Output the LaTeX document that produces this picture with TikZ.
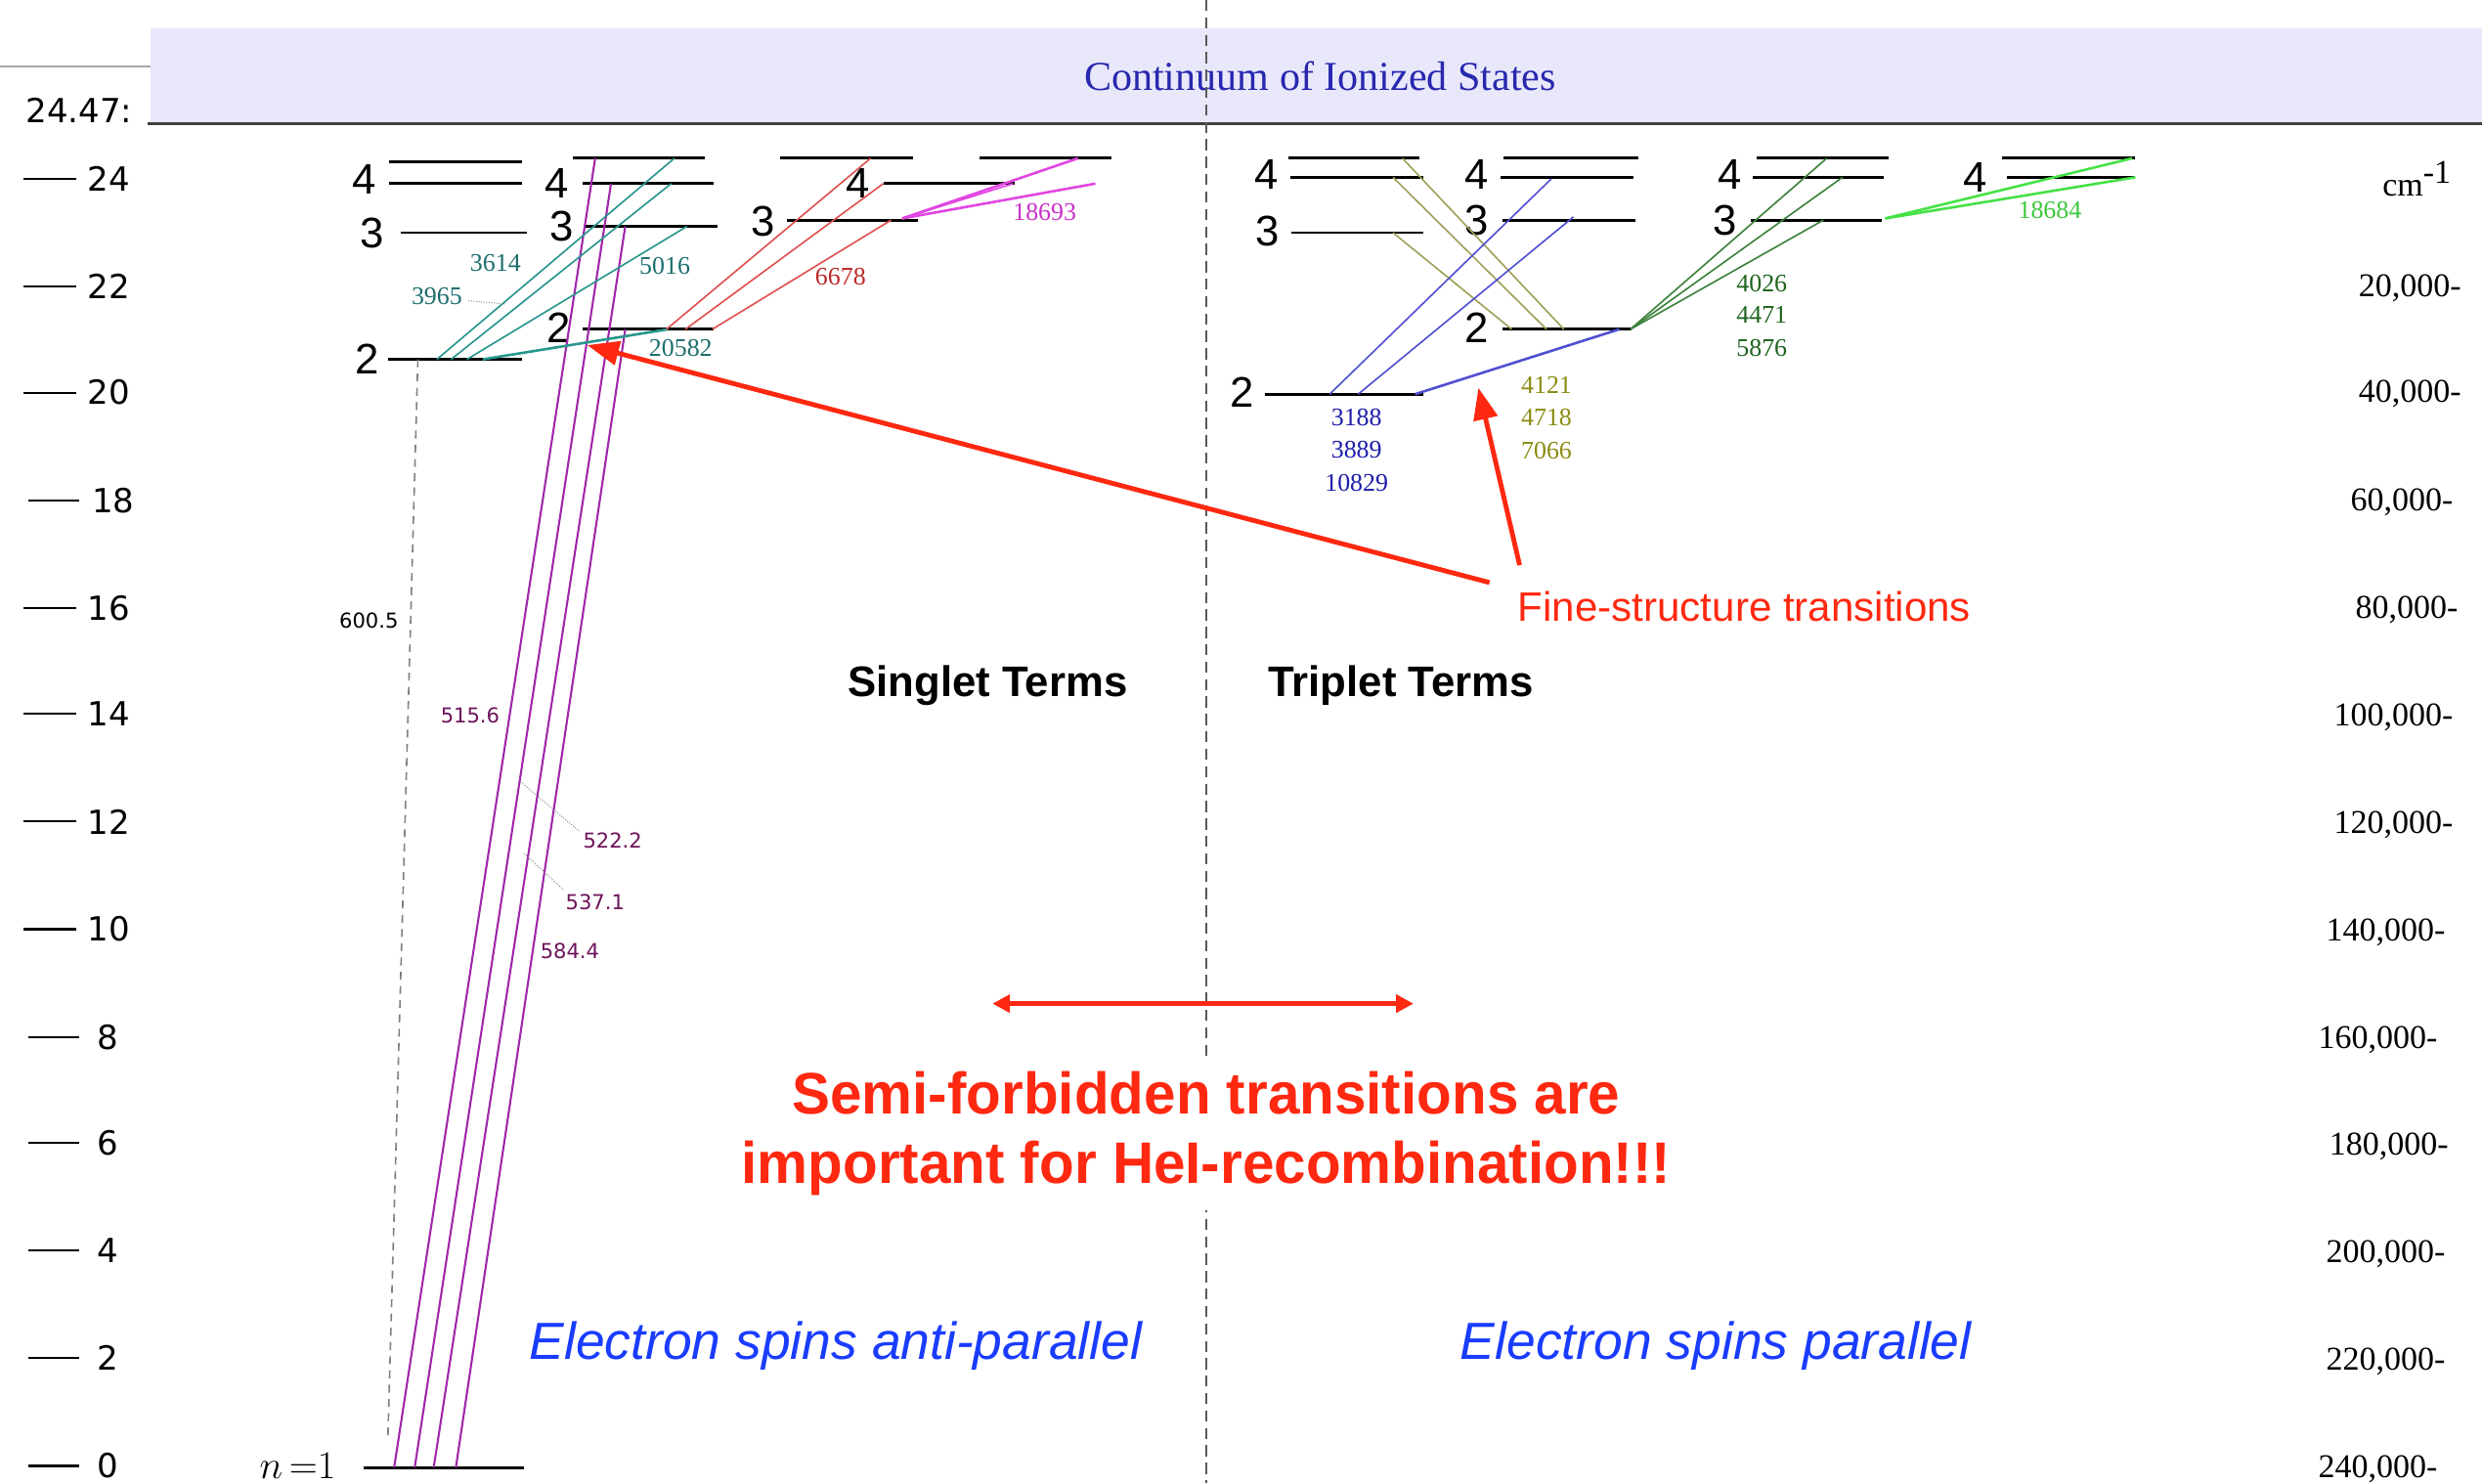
\documentclass[tikz,border=0pt]{standalone}
\usepackage{fontspec}
\usepackage{graphicx}
\setmainfont{Liberation Serif}
\newfontfamily\arial{Liberation Sans}
\newfontfamily\dejavu{DejaVu Sans}
\usetikzlibrary{arrows.meta}
\definecolor{bandfill}{RGB}{232,232,250}
\definecolor{conttext}{RGB}{40,40,176}
\definecolor{tealc}{RGB}{40,150,140}
\definecolor{teallab}{RGB}{30,110,110}
\definecolor{purplec}{RGB}{160,40,170}
\definecolor{purplelab}{RGB}{110,20,90}
\definecolor{redc}{RGB}{224,80,80}
\definecolor{redlab}{RGB}{190,40,40}
\definecolor{magc}{RGB}{225,70,225}
\definecolor{maglab}{RGB}{200,50,200}
\definecolor{olivec}{RGB}{160,160,90}
\definecolor{olivelab}{RGB}{140,140,20}
\definecolor{bluec}{RGB}{80,80,210}
\definecolor{bluelab}{RGB}{30,30,170}
\definecolor{dgreenc}{RGB}{60,130,60}
\definecolor{dgreenlab}{RGB}{30,100,30}
\definecolor{bgreenc}{RGB}{70,225,70}
\definecolor{bgreenlab}{RGB}{60,200,60}
\definecolor{annred}{RGB}{255,40,16}
\definecolor{spinblue}{RGB}{26,60,255}
\newcommand\lvl[4]{\coordinate (#1-l) at (#2,#4); \coordinate (#1-r) at (#3,#4); \draw[lvline] (#1-l) -- (#1-r);}
\newcommand\trn[6]{\coordinate (#1-a) at (#2,#3); \coordinate (#1-b) at (#4,#5); \draw[#6] (#1-a) -- (#1-b);}
\begin{document}
\begin{tikzpicture}[x=1pt,y=-1pt,
  lvline/.style={line width=1.8pt,black},
  thin/.style={line width=1pt},
  thick2/.style={line width=1.6pt},
  lvlab/.style={font={\arial\fontsize{27}{27}\selectfont},inner sep=0pt},
  axlab/.style={font={\dejavu\fontsize{21}{21}\selectfont},inner sep=0pt},
  rlab/.style={font={\fontsize{21}{21}\selectfont},inner sep=0pt,anchor=east},
  wl/.style={font={\fontsize{16}{16}\selectfont},inner sep=0pt},
  ul/.style={font={\dejavu\fontsize{13}{13}\selectfont},inner sep=0pt,text=purplelab},
  annot/.style={draw=annred,line width=3pt,-{Triangle[length=20pt,width=15pt]}},
  leader/.style={densely dotted,line width=0.6pt,gray}]
\useasboundingbox (0,0) rectangle (1568,937);
\fill[white] (0,0) rectangle (1568,937);
% continuum band
\fill[bandfill] (95,18) rectangle (1568,78);
\coordinate (gl-a) at (0,42); \coordinate (gl-b) at (95,42);
\draw[line width=1.2pt,gray!70] (gl-a) -- (gl-b);
\coordinate (cb-a) at (93,78); \coordinate (cb-b) at (1568,78);
\draw[line width=2pt,black!75] (cb-a) -- (cb-b);
\node[font={\fontsize{26}{26}\selectfont},text=conttext,inner sep=0pt] (cont) at (834,48) {Continuum of Ionized States};
% dashed divider
\coordinate (dv-a) at (762,0); \coordinate (dv-b) at (762,937);
\draw[dashed,dash pattern=on 7pt off 4pt,line width=1.2pt,black!65] (dv-a) -- (dv-b);
% left axis
\foreach \e/\yy in {24/113,22/181,20/248,16/384,14/451,12/519,10/587}{
  \draw[line width=1.3pt] (15,\yy) -- (48,\yy);
  \node[axlab,anchor=west] (ax\e) at (55,\yy) {\e};}
\draw[line width=1.3pt] (18,316) -- (50,316);
\node[axlab,anchor=west] (ax18) at (58,316) {18};
\foreach \e/\yy in {8/655,6/722,4/790,2/858,0/926}{
  \draw[line width=1.3pt] (18,\yy) -- (50,\yy);
  \node[axlab] (ax\e) at (68,\yy) {\e};}
\node[axlab] (ion) at (50,70) {24.47:};
% right axis
\node[font={\fontsize{21}{21}\selectfont},inner sep=0pt] (cm) at (1527,113) {cm$^{\textrm{-1}}$};
\foreach \v/\yy/\xr in {20/182/1555,40/249/1555,60/317/1550,80/385/1553,100/453/1550,120/521/1550,140/589/1545,160/657/1540,180/724/1547,200/792/1545,220/860/1545,240/928/1540}{
  \node[rlab] (r\v) at (\xr,\yy) {\v,000-};}
% ---------- singlet levels ----------
\lvl{s1a}{246}{330}{102}
\lvl{s1b}{246}{330}{116}
\lvl{s1c}{253}{333}{147}
\lvl{s1d}{245}{330}{227}
\lvl{g}{230}{331}{927}
\lvl{s2a}{362}{445}{100}
\lvl{s2b}{368}{451}{116}
\lvl{s2c}{369}{453}{143}
\lvl{s2d}{368}{451}{208}
\lvl{s3a}{493}{577}{100}
\lvl{s3b}{558}{641}{116}
\lvl{s3c}{497}{580}{139}
\lvl{s4a}{619}{702}{100}
\node[lvlab] (ls1a) at (230,113) {4};
\node[lvlab] (ls1c) at (235,147) {3};
\node[lvlab] (ls1d) at (232,227) {2};
\node[font={\fontsize{24}{24}\selectfont},inner sep=0pt] (lg) at (188,926) {$n\,{=}1$};
\node[lvlab] (ls2b) at (352,116) {4};
\node[lvlab] (ls2c) at (355,143) {3};
\node[lvlab] (ls2d) at (353,207) {2};
\node[lvlab] (ls3c) at (482,140) {3};
\node[lvlab] (ls3b) at (542,116) {4};
% ---------- triplet levels ----------
\lvl{t1a}{814}{897}{100}
\lvl{t1b}{815}{899}{112}
\lvl{t1c}{816}{899}{147}
\lvl{t1d}{799}{899}{249}
\lvl{t2a}{950}{1035}{100}
\lvl{t2b}{948}{1032}{112}
\lvl{t2c}{949}{1033}{139}
\lvl{t2d}{949}{1031}{208}
\lvl{t3a}{1110}{1193}{100}
\lvl{t3b}{1107}{1190}{112}
\lvl{t3c}{1106}{1189}{139}
\lvl{t4a}{1265}{1349}{100}
\lvl{t4b}{1268}{1349}{112}
\node[lvlab] (lt1b) at (800,110) {4};
\node[lvlab] (lt1c) at (801,146) {3};
\node[lvlab] (lt1d) at (785,248) {2};
\node[lvlab] (lt2b) at (933,110) {4};
\node[lvlab] (lt2c) at (933,139) {3};
\node[lvlab] (lt2d) at (933,207) {2};
\node[lvlab] (lt3b) at (1093,110) {4};
\node[lvlab] (lt3c) at (1090,139) {3};
\node[lvlab] (lt4b) at (1248,112) {4};
% ---------- singlet transitions ----------
\trn{p1}{249}{927}{376}{100}{line width=1.3pt,purplec}
\trn{p2}{262}{927}{386}{116}{line width=1.3pt,purplec}
\trn{p3}{274}{927}{395}{143}{line width=1.3pt,purplec}
\trn{p4}{288}{927}{395}{208}{line width=1.3pt,purplec}
\trn{gd}{264}{227}{245}{910}{dashed,dash pattern=on 5pt off 4pt,line width=1pt,gray}
\trn{tc1}{276}{227}{426}{100}{thin,tealc}
\trn{tc2}{285}{227}{424}{116}{thin,tealc}
\trn{tc3}{295}{227}{434}{143}{thin,tealc}
\trn{tc4}{305}{227}{422}{208}{thick2,tealc}
\trn{rd1}{421}{208}{550}{100}{thin,redc}
\trn{rd2}{433}{208}{558}{116}{thin,redc}
\trn{rd3}{450}{208}{563}{139}{thin,redc}
\trn{mg1}{570}{138}{681}{100}{thick2,magc}
\trn{mg2}{570}{138}{640}{116}{thin,magc}
\trn{mg3}{570}{138}{692}{116}{thick2,magc}
% ---------- triplet transitions ----------
\trn{ol1}{886}{100}{988}{208}{thin,olivec}
\trn{ol2}{880}{112}{977}{208}{thin,olivec}
\trn{ol3}{880}{147}{955}{208}{thin,olivec}
\trn{bl1}{840}{249}{980}{113}{thin,bluec}
\trn{bl2}{858}{249}{994}{137}{thin,bluec}
\trn{bl3}{894}{249}{1023}{208}{thick2,bluec}
\trn{dg1}{1030}{208}{1154}{100}{thin,dgreenc}
\trn{dg2}{1030}{208}{1164}{112}{thin,dgreenc}
\trn{dg3}{1030}{208}{1152}{139}{thin,dgreenc}
\trn{bg1}{1191}{138}{1347}{100}{thick2,bgreenc}
\trn{bg2}{1191}{138}{1349}{112}{thick2,bgreenc}
% ---------- wavelength labels ----------
\node[wl,text=teallab] (w3614) at (313,166) {3614};
\node[wl,text=teallab] (w3965) at (276,187) {3965};
\trn{ld1}{296}{190}{319}{192}{leader}
\node[wl,text=teallab] (w5016) at (420,168) {5016};
\node[wl,text=teallab] (w20582) at (430,220) {20582};
\node[wl,text=redlab] (w6678) at (531,175) {6678};
\node[wl,text=maglab] (w18693) at (660,134) {18693};
\node[ul] (u5156) at (297,452) {515.6};
\node[ul] (u5222) at (387,531) {522.2};
\trn{ld2}{329}{494}{366}{525}{leader}
\node[ul] (u5371) at (376,570) {537.1};
\trn{ld3}{331}{539}{356}{562}{leader}
\node[ul] (u5844) at (360,601) {584.4};
\node[ul,text=black] (u6005) at (233,392) {600.5};
\node[wl,text=bluelab] (w3188) at (857,264) {3188};
\node[wl,text=bluelab] (w3889) at (857,284) {3889};
\node[wl,text=bluelab] (w10829) at (857,305) {10829};
\node[wl,text=olivelab] (w4121) at (977,243) {4121};
\node[wl,text=olivelab] (w4718) at (977,264) {4718};
\node[wl,text=olivelab] (w7066) at (977,285) {7066};
\node[wl,text=dgreenlab] (w4026) at (1113,179) {4026};
\node[wl,text=dgreenlab] (w4471) at (1113,199) {4471};
\node[wl,text=dgreenlab] (w5876) at (1113,220) {5876};
\node[wl,text=bgreenlab] (w18684) at (1295,133) {18684};
% ---------- annotations ----------
\node[font={\arial\bfseries\fontsize{27}{27}\selectfont},inner sep=0pt] (sing) at (624,433) {Singlet Terms};
\node[font={\arial\bfseries\fontsize{27}{27}\selectfont},inner sep=0pt] (trip) at (885,433) {Triplet Terms};
\node[font={\arial\fontsize{26}{26}\selectfont},text=annred,inner sep=0pt] (fst) at (1102,383) {Fine-structure transitions};
\coordinate (fa1) at (941,368); \coordinate (fb1) at (371,218);
\coordinate (fa2) at (960,357); \coordinate (fb2) at (934,245);
\draw[annot] (fa1) -- (fb1);
\draw[annot] (fa2) -- (fb2);
\coordinate (da) at (627,634); \coordinate (db) at (893,634);
\draw[draw=annred,line width=3pt,{Triangle[length=11pt,width=11pt]}-{Triangle[length=11pt,width=11pt]}] (da) -- (db);
\node[fill=white,inner xsep=4pt,inner ysep=9pt,align=center,text=annred,font={\arial\bfseries\fontsize{37}{44}\selectfont}] (semi) at (762,716)
  {\scalebox{0.975}[1]{Semi-forbidden transitions are}\\ \scalebox{0.975}[1]{important for HeI-recombination!!!}};
\node[font={\arial\itshape\fontsize{33}{33}\selectfont},text=spinblue,inner sep=0pt] (anti) at (528,850) {Electron spins anti-parallel};
\node[font={\arial\itshape\fontsize{33}{33}\selectfont},text=spinblue,inner sep=0pt] (para) at (1084,850) {Electron spins parallel};
\end{tikzpicture}
\end{document}
